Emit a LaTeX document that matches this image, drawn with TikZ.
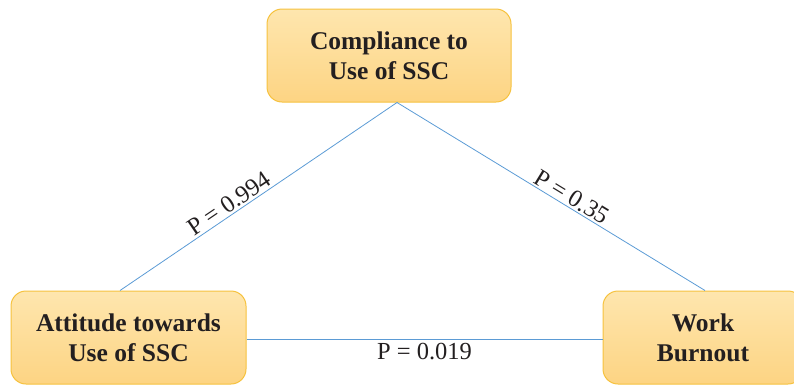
\documentclass[tikz,border=0pt]{standalone}
\usepackage{fontspec}
\setmainfont{Liberation Serif}
\definecolor{boxtop}{HTML}{FEE6AE}
\definecolor{boxbot}{HTML}{FDD483}
\definecolor{boxline}{HTML}{F6C23E}
\definecolor{linkc}{HTML}{5B9BD5}
\definecolor{ink}{HTML}{231F20}
\tikzset{
  varbox/.style={draw=boxline, line width=1pt, rounded corners=15pt,
    top color=boxtop, bottom color=boxbot, minimum height=93pt,
    align=center, font=\fontsize{25.5}{30}\selectfont\bfseries, text=ink},
  link/.style={draw=linkc, line width=0.8pt},
  plabel/.style={font=\fontsize{24.5}{29}\selectfont, text=ink, inner sep=2pt}
}
\begin{document}
\begin{tikzpicture}[x=1pt,y=1pt]
\useasboundingbox (0,0) rectangle (794,-386);
\node[varbox, minimum width=244pt] (top) at (389,-55.5) {Compliance to\\Use of SSC};
\node[varbox, minimum width=235pt] (left) at (128.5,-337.5) {Attitude towards\\Use of SSC};
\node[varbox, minimum width=200pt] (right) at (703,-337.5) {Work\\Burnout};
\draw[link] ([xshift=-8.5pt]left.north) -- ([xshift=8pt]top.south)
  node[plabel, sloped, above, pos=0.415] {P = 0.994};
\draw[link] ([xshift=8pt]top.south) -- ([xshift=2pt]right.north)
  node[plabel, sloped, above, pos=0.55] {P = 0.35};
\draw[link] ([yshift=-1.5pt]left.east) -- ([yshift=-1.5pt]right.west)
  node[plabel, below=1.5pt, pos=0.5] {P = 0.019};
\end{tikzpicture}
\end{document}
